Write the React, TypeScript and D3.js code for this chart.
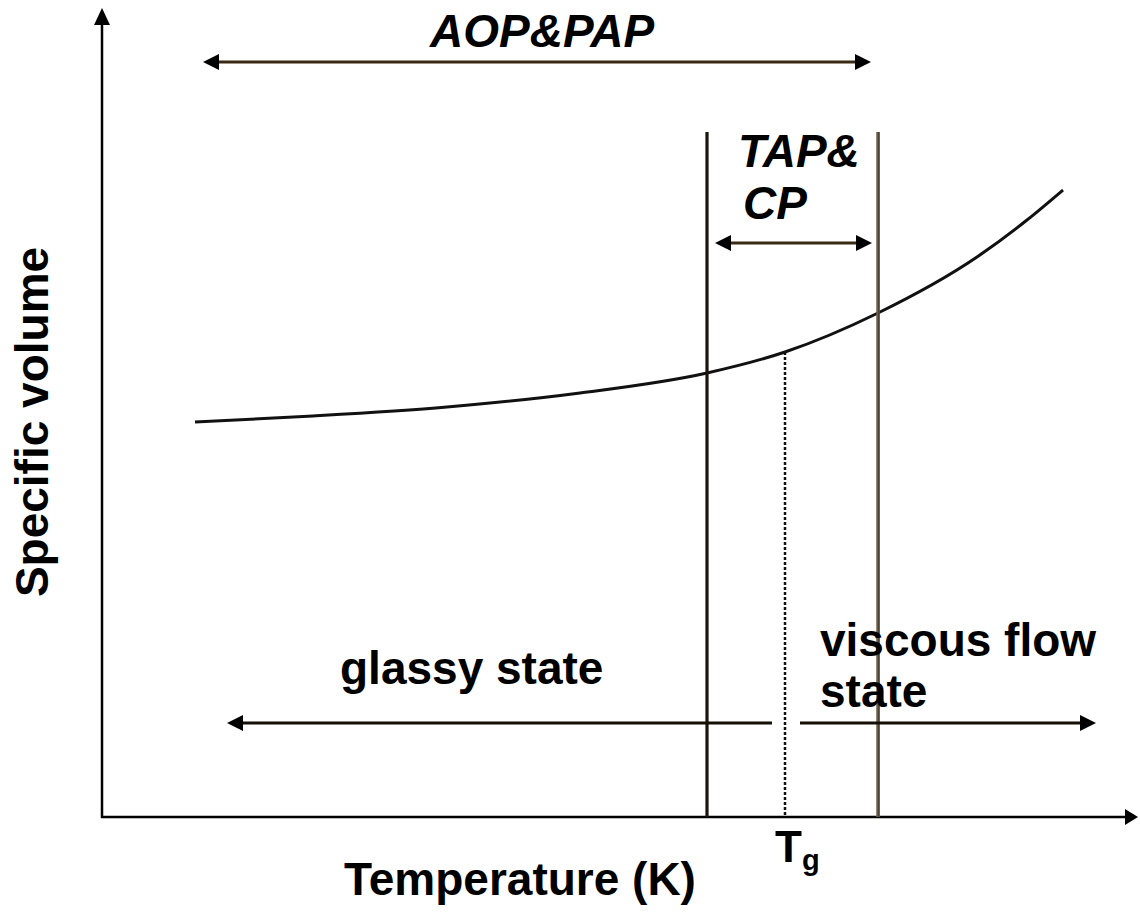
import React from "react";
import * as d3 from "d3";

// Curve of specific volume vs temperature (arbitrary units)
const curveTemp = [9.3, 21.1, 34.5, 47.8, 60.5, 68.3, 77.6, 87.5, 92.5, 96.1];
const curveVol = [39.5, 40.1, 41.0, 42.4, 44.4, 46.5, 50.4, 56.0, 59.7, 62.7];

// Vertical markers
const tapLeft = 60.5;
const tapRight = 77.6;
const tapTop = 68.5;
const tg = 68.3;
const tgVol = 46.5;

// Double-headed arrows: [x1, x2, y]
const aopArrow = [10.1, 76.9, 75.5];
const tapArrow = [61.3, 77.0, 57.4];
const glassyArrow = [12.5, 67.0, 9.4];
const viscousArrow = [69.8, 99.4, 9.4];

const xMax = 103.6;
const yMax = 80.9;

const W = 1140;
const H = 913;
const FONT = "'Liberation Sans', Arial, sans-serif";

function head(tipX: number, tipY: number, dir: "l" | "r" | "u", len = 16, half = 8) {
  if (dir === "r") return `M${tipX},${tipY}L${tipX - len},${tipY - half}L${tipX - len},${tipY + half}Z`;
  if (dir === "l") return `M${tipX},${tipY}L${tipX + len},${tipY - half}L${tipX + len},${tipY + half}Z`;
  return `M${tipX},${tipY}L${tipX - half},${tipY + len}L${tipX + half},${tipY + len}Z`;
}

export default function App() {
  const x = d3.scaleLinear().domain([0, xMax]).range([102, 1138]);
  const y = d3.scaleLinear().domain([0, yMax]).range([817, 8]);

  const pts: [number, number][] = curveTemp.map((t, i) => [x(t), y(curveVol[i])]);
  const line = d3.line().curve(d3.curveMonotoneX)(pts) || "";

  const dArrow = (a: number[], left: boolean, right: boolean, color = "#1a140c", sw = 3) => {
    const x1 = x(a[0]);
    const x2 = x(a[1]);
    const yy = y(a[2]);
    return (
      <g>
        <line x1={left ? x1 + 12 : x1} x2={right ? x2 - 12 : x2} y1={yy} y2={yy} stroke={color} strokeWidth={sw} />
        {left && <path d={head(x1, yy, "l")} fill="#000" />}
        {right && <path d={head(x2, yy, "r")} fill="#000" />}
      </g>
    );
  };

  const tStyle: React.CSSProperties = { fontFamily: FONT, fontWeight: "bold", fontSize: 46, fill: "#000" };

  return (
    <svg width={W} height={H} style={{ position: "absolute", left: 0, top: 0, background: "#fff" }}>
      <rect width={W} height={H} fill="#fff" />
      {/* axes */}
      <line x1={x(0)} x2={x(0)} y1={y(0) + 1} y2={y(yMax) + 14} stroke="#000" strokeWidth={2.5} />
      <path d={head(x(0), y(yMax), "u", 17, 8)} fill="#000" />
      <line x1={x(0) - 1} x2={x(xMax) - 10} y1={y(0)} y2={y(0)} stroke="#000" strokeWidth={2.5} />
      <path d={head(x(xMax), y(0), "r", 13, 8)} fill="#000" />

      {/* curve */}
      <path d={line} fill="none" stroke="#111" strokeWidth={3} />

      {/* vertical lines */}
      <line x1={x(tapLeft)} x2={x(tapLeft)} y1={y(tapTop)} y2={y(0)} stroke="#1a140c" strokeWidth={3.2} />
      <line x1={x(tapRight)} x2={x(tapRight)} y1={y(tapTop)} y2={y(0)} stroke="#7a5c34" strokeWidth={3.5} />
      <line x1={x(tapRight) + 0.8} x2={x(tapRight) + 0.8} y1={y(tapTop)} y2={y(0)} stroke="#444" strokeWidth={1.5} />
      <line x1={x(tg)} x2={x(tg)} y1={y(tgVol)} y2={y(0)} stroke="#111" strokeWidth={2.5} strokeDasharray="3,2" />

      {/* arrows */}
      {dArrow(aopArrow, true, true, "#3a2a14", 3)}
      {dArrow(tapArrow, true, true, "#3a2a14", 3)}
      {dArrow(glassyArrow, true, false, "#140e06", 3)}
      {dArrow(viscousArrow, false, true, "#140e06", 3)}

      {/* labels */}
      <text x={430} y={47} style={{ ...tStyle, fontStyle: "italic" }}>AOP&amp;PAP</text>
      <text x={738} y={167} style={{ ...tStyle, fontStyle: "italic", fontSize: 46 }}>TAP&amp;</text>
      <text x={743} y={219} style={{ ...tStyle, fontStyle: "italic", fontSize: 46 }}>CP</text>
      <text x={340} y={684} style={tStyle}>glassy state</text>
      <text x={820} y={656} style={tStyle}>viscous flow</text>
      <text x={820} y={707} style={tStyle}>state</text>
      <text x={520} y={895} textAnchor="middle" style={tStyle}>Temperature (K)</text>
      <text transform={`translate(48,422) rotate(-90)`} textAnchor="middle" style={tStyle}>Specific volume</text>
      <text x={775} y={862} style={{ ...tStyle, fontSize: 44 }}>T</text>
      <text x={802} y={870} style={{ ...tStyle, fontSize: 29 }}>g</text>
    </svg>
  );
}
